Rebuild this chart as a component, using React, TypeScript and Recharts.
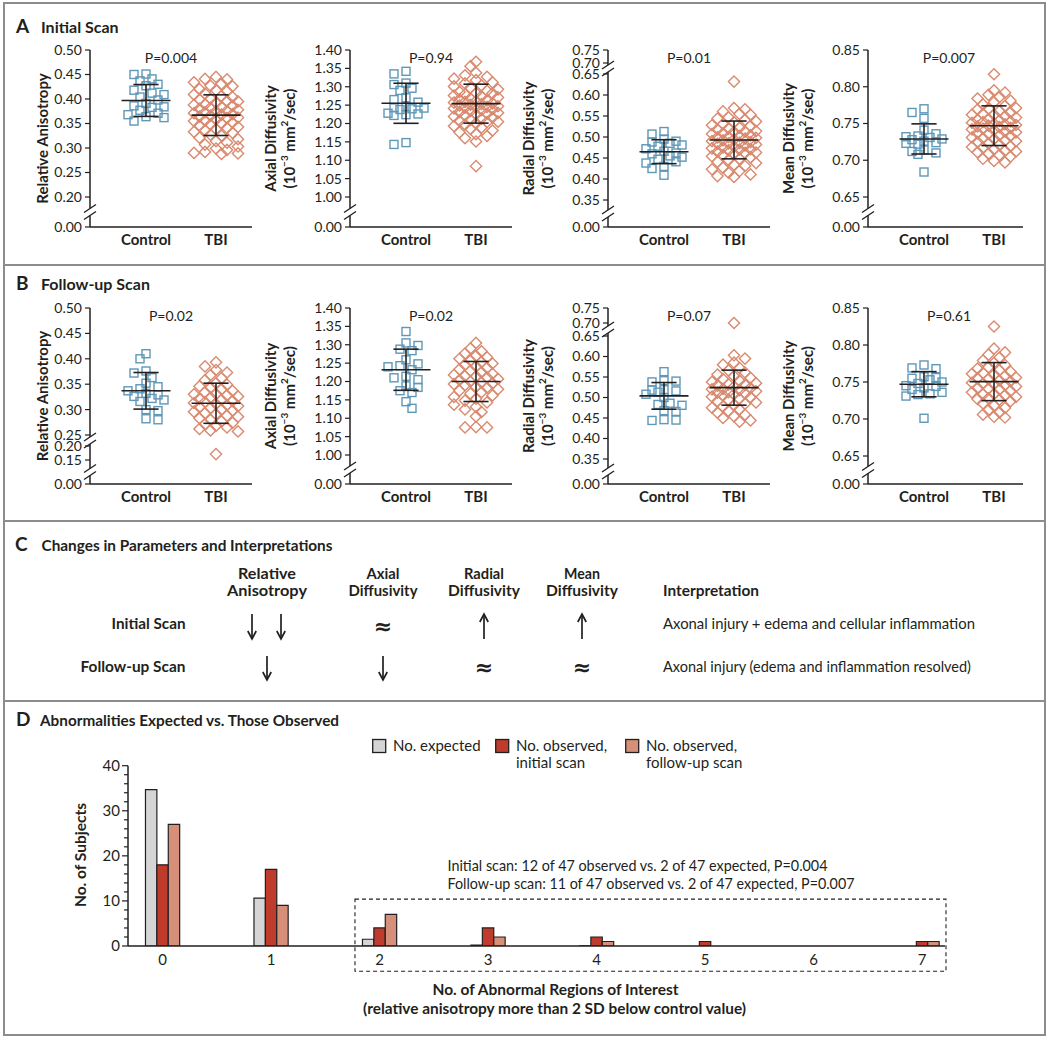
import React from 'react';
import {
  ScatterChart, Scatter, XAxis, YAxis, ReferenceLine, ReferenceDot, ReferenceArea,
  BarChart, Bar, Legend,
} from 'recharts';

const FONT = "Lato, 'Open Sans', 'DejaVu Sans', sans-serif";
const INK = '#231f20';
const BLUE = '#5f97b8';
const SALMON = '#d98a6f';
const FRAME = '#8c8c8c';

// ---------------- data: panels A and B ----------------
const groupNames = ['Control', 'TBI'];
const pInitial = ['P=0.004', 'P=0.94', 'P=0.01', 'P=0.007'];
const pFollow = ['P=0.02', 'P=0.02', 'P=0.07', 'P=0.61'];

const raInitialControl = [0.451, 0.450, 0.441, 0.437, 0.430, 0.427, 0.418, 0.412, 0.409, 0.404, 0.398, 0.391, 0.386, 0.384, 0.383, 0.377, 0.371, 0.368, 0.364, 0.362, 0.355];
const raInitialTbi = [0.445, 0.441, 0.440, 0.434, 0.431, 0.427, 0.426, 0.420, 0.418, 0.416, 0.411, 0.409, 0.406, 0.404, 0.401, 0.399, 0.396, 0.395, 0.392, 0.389, 0.388, 0.386, 0.383, 0.382, 0.380, 0.378, 0.376, 0.375, 0.373, 0.371, 0.369, 0.368, 0.366, 0.364, 0.362, 0.361, 0.358, 0.356, 0.355, 0.352, 0.350, 0.348, 0.346, 0.343, 0.341, 0.339, 0.336, 0.333, 0.331, 0.327, 0.325, 0.321, 0.318, 0.314, 0.311, 0.307, 0.303, 0.299, 0.296, 0.292, 0.290, 0.289, 0.288];
const raInitialMean = [0.397, 0.367];
const raInitialSd = [0.0325, 0.0415];

const adInitialControl = [1.342, 1.335, 1.310, 1.306, 1.296, 1.290, 1.270, 1.265, 1.258, 1.246, 1.243, 1.242, 1.240, 1.238, 1.228, 1.226, 1.224, 1.222, 1.148, 1.143];
const adInitialTbi = [1.368, 1.356, 1.338, 1.331, 1.327, 1.322, 1.318, 1.312, 1.309, 1.304, 1.301, 1.297, 1.293, 1.289, 1.286, 1.283, 1.282, 1.279, 1.276, 1.274, 1.271, 1.268, 1.266, 1.263, 1.261, 1.259, 1.257, 1.255, 1.253, 1.251, 1.249, 1.247, 1.245, 1.244, 1.243, 1.241, 1.239, 1.236, 1.234, 1.231, 1.229, 1.227, 1.225, 1.222, 1.219, 1.216, 1.213, 1.210, 1.207, 1.205, 1.204, 1.201, 1.197, 1.193, 1.189, 1.185, 1.181, 1.176, 1.171, 1.166, 1.160, 1.151, 1.084];
const adInitialMean = [1.255, 1.254];
const adInitialSd = [0.0545, 0.053];

const rdInitialControl = [0.513, 0.507, 0.495, 0.490, 0.488, 0.485, 0.481, 0.478, 0.472, 0.466, 0.462, 0.460, 0.455, 0.452, 0.447, 0.441, 0.438, 0.430, 0.425, 0.409];
const rdInitialTbi = [0.632, 0.569, 0.566, 0.561, 0.555, 0.553, 0.547, 0.544, 0.541, 0.537, 0.535, 0.531, 0.528, 0.526, 0.522, 0.520, 0.518, 0.514, 0.513, 0.512, 0.509, 0.507, 0.504, 0.502, 0.500, 0.499, 0.498, 0.496, 0.494, 0.492, 0.490, 0.488, 0.486, 0.485, 0.484, 0.482, 0.480, 0.477, 0.475, 0.473, 0.471, 0.470, 0.468, 0.465, 0.463, 0.462, 0.460, 0.457, 0.454, 0.451, 0.448, 0.445, 0.441, 0.438, 0.434, 0.431, 0.427, 0.423, 0.419, 0.415, 0.411, 0.407, 0.405];
const rdInitialMean = [0.465, 0.493];
const rdInitialSd = [0.0285, 0.045];

const mdInitialControl = [0.770, 0.765, 0.757, 0.741, 0.736, 0.733, 0.732, 0.731, 0.729, 0.728, 0.726, 0.724, 0.723, 0.722, 0.714, 0.712, 0.710, 0.708, 0.684];
const mdInitialTbi = [0.817, 0.795, 0.792, 0.789, 0.786, 0.784, 0.781, 0.779, 0.776, 0.774, 0.771, 0.770, 0.769, 0.767, 0.765, 0.763, 0.762, 0.762, 0.760, 0.758, 0.756, 0.755, 0.754, 0.753, 0.752, 0.751, 0.750, 0.749, 0.748, 0.747, 0.746, 0.745, 0.744, 0.743, 0.742, 0.741, 0.739, 0.738, 0.737, 0.736, 0.734, 0.733, 0.731, 0.730, 0.729, 0.727, 0.726, 0.725, 0.723, 0.721, 0.719, 0.718, 0.717, 0.715, 0.713, 0.712, 0.711, 0.709, 0.707, 0.705, 0.702, 0.699, 0.697];
const mdInitialMean = [0.729, 0.747];
const mdInitialSd = [0.0205, 0.027];

const raFollowControl = [0.410, 0.400, 0.376, 0.372, 0.363, 0.352, 0.345, 0.341, 0.337, 0.332, 0.329, 0.326, 0.322, 0.319, 0.316, 0.300, 0.298, 0.282, 0.280];
const raFollowTbi = [0.393, 0.385, 0.378, 0.373, 0.368, 0.362, 0.358, 0.352, 0.349, 0.346, 0.343, 0.340, 0.337, 0.334, 0.331, 0.330, 0.328, 0.326, 0.324, 0.321, 0.319, 0.317, 0.315, 0.313, 0.311, 0.309, 0.307, 0.305, 0.303, 0.300, 0.298, 0.296, 0.293, 0.291, 0.288, 0.286, 0.283, 0.280, 0.277, 0.274, 0.271, 0.268, 0.265, 0.262, 0.259, 0.257, 0.171];
const raFollowMean = [0.337, 0.3125];
const raFollowSd = [0.036, 0.0395];

const adFollowControl = [1.336, 1.305, 1.298, 1.288, 1.284, 1.259, 1.248, 1.243, 1.240, 1.232, 1.214, 1.210, 1.205, 1.188, 1.184, 1.175, 1.170, 1.145, 1.127];
const adFollowTbi = [1.305, 1.290, 1.282, 1.276, 1.270, 1.266, 1.262, 1.257, 1.253, 1.249, 1.245, 1.241, 1.237, 1.233, 1.229, 1.225, 1.221, 1.218, 1.215, 1.214, 1.211, 1.207, 1.204, 1.200, 1.197, 1.195, 1.193, 1.190, 1.186, 1.183, 1.179, 1.175, 1.171, 1.167, 1.162, 1.158, 1.153, 1.148, 1.143, 1.137, 1.131, 1.124, 1.117, 1.105, 1.076, 1.075, 1.075];
const adFollowMean = [1.232, 1.200];
const adFollowSd = [0.056, 0.0545];

const rdFollowControl = [0.563, 0.541, 0.540, 0.538, 0.519, 0.518, 0.516, 0.513, 0.508, 0.500, 0.486, 0.483, 0.481, 0.468, 0.466, 0.446, 0.445, 0.444];
const rdFollowTbi = [0.700, 0.603, 0.595, 0.585, 0.580, 0.572, 0.566, 0.561, 0.556, 0.552, 0.548, 0.545, 0.541, 0.538, 0.535, 0.532, 0.531, 0.529, 0.526, 0.523, 0.521, 0.520, 0.518, 0.515, 0.513, 0.512, 0.510, 0.508, 0.505, 0.502, 0.500, 0.497, 0.494, 0.491, 0.488, 0.485, 0.482, 0.478, 0.475, 0.471, 0.467, 0.463, 0.458, 0.454, 0.450, 0.444, 0.441];
const rdFollowMean = [0.504, 0.524];
const rdFollowSd = [0.0325, 0.0427];

const mdFollowControl = [0.773, 0.769, 0.768, 0.757, 0.756, 0.755, 0.753, 0.750, 0.748, 0.745, 0.744, 0.742, 0.740, 0.736, 0.734, 0.733, 0.731, 0.701];
const mdFollowTbi = [0.825, 0.795, 0.790, 0.787, 0.783, 0.779, 0.776, 0.773, 0.770, 0.768, 0.766, 0.764, 0.762, 0.761, 0.760, 0.758, 0.756, 0.755, 0.754, 0.752, 0.751, 0.749, 0.748, 0.747, 0.746, 0.744, 0.742, 0.741, 0.740, 0.738, 0.736, 0.734, 0.733, 0.732, 0.730, 0.728, 0.727, 0.726, 0.724, 0.721, 0.718, 0.715, 0.712, 0.709, 0.706, 0.703, 0.702];
const mdFollowMean = [0.747, 0.7505];
const mdFollowSd = [0.017, 0.0257];

// tick labels
const raTicksInitial = [0, 0.2, 0.25, 0.3, 0.35, 0.4, 0.45, 0.5];
const raTicksFollow = [0, 0.15, 0.2, 0.25, 0.3, 0.35, 0.4, 0.45, 0.5];
const adTicks = [0, 1.0, 1.05, 1.1, 1.15, 1.2, 1.25, 1.3, 1.35, 1.4];
const rdTicks = [0, 0.35, 0.4, 0.45, 0.5, 0.55, 0.6, 0.65, 0.7, 0.75];
const mdTicks = [0, 0.65, 0.7, 0.75, 0.8, 0.85];

// ---------------- data: panel D ----------------
const regionCounts = [0, 1, 2, 3, 4, 5, 6, 7];
const expectedCounts = [34.7, 10.6, 1.5, 0.2, 0.03, 0, 0, 0];
const observedInitial = [18, 17, 4, 4, 2, 1, 0, 1];
const observedFollowUp = [27, 9, 7, 2, 1, 0, 0, 1];
const subjectTicks = [0, 2, 4, 6, 8, 10, 12, 14, 16, 18, 20, 22, 24, 26, 28, 30, 32, 34, 36, 38, 40];

// ---------------- axis layout (broken axes) ----------------
type Seg = [number, number, number, boolean]; // from, to, pixel length, is break
const raSegsA: Seg[] = [[0, 0.2, 30, true], [0.2, 0.5, 147, false]];
const adSegsA: Seg[] = [[0, 1.0, 30, true], [1.0, 1.4, 147, false]];
const rdSegsA: Seg[] = [[0, 0.35, 27, true], [0.35, 0.65, 126, false], [0.65, 0.7, 11, true], [0.7, 0.75, 13, false]];
const mdSegsA: Seg[] = [[0, 0.65, 30, true], [0.65, 0.85, 147, false]];
const raSegsB: Seg[] = [[0, 0.15, 24, true], [0.15, 0.2, 14, false], [0.2, 0.25, 11, true], [0.25, 0.5, 127, false]];
const adSegsB: Seg[] = [[0, 1.0, 29, true], [1.0, 1.4, 147, false]];
const rdSegsB: Seg[] = [[0, 0.35, 25, true], [0.35, 0.65, 123, false], [0.65, 0.7, 13, true], [0.7, 0.75, 15, false]];
const mdSegsB: Seg[] = [[0, 0.65, 28, true], [0.65, 0.85, 148, false]];

function segTotal(segs: Seg[]) {
  return segs.reduce((s, g) => s + g[2], 0);
}
function fracOf(segs: Seg[], v: number): number {
  const total = segTotal(segs);
  let acc = 0;
  for (let i = 0; i < segs.length; i++) {
    const [a, b, px] = segs[i];
    if (v <= b || i === segs.length - 1) return (acc + ((v - a) / (b - a)) * px) / total;
    acc += px;
  }
  return 1;
}
function valueOfFrac(segs: Seg[], f: number): number {
  const total = segTotal(segs);
  const target = f * total;
  let acc = 0;
  for (let i = 0; i < segs.length; i++) {
    const [a, b, px] = segs[i];
    if (target <= acc + px || i === segs.length - 1) return a + ((target - acc) / px) * (b - a);
    acc += px;
  }
  return segs[segs.length - 1][1];
}
function makeBrokenScale(segs: Seg[]): any {
  let dom: number[] = [segs[0][0], segs[segs.length - 1][1]];
  let rng: number[] = [0, 1];
  const scale: any = (v: any) => rng[0] + fracOf(segs, Number(v)) * (rng[1] - rng[0]);
  scale.domain = (d?: any) => {
    if (d === undefined) return dom.slice();
    dom = Array.from(d as number[]);
    return scale;
  };
  scale.range = (r?: any) => {
    if (r === undefined) return rng.slice();
    rng = Array.from(r as number[]);
    return scale;
  };
  scale.rangeRound = scale.range;
  scale.copy = () => makeBrokenScale(segs).domain(dom).range(rng);
  scale.invert = (px: number) => valueOfFrac(segs, (px - rng[0]) / (rng[1] - rng[0]));
  scale.ticks = () => segs.map((s) => s[0]).concat([segs[segs.length - 1][1]]);
  scale.tickFormat = () => (d: number) => String(d);
  scale.nice = () => scale;
  scale.clamp = (c?: any) => (c === undefined ? false : scale);
  return scale;
}

// beeswarm-style horizontal spreading (pixel space)
function swarmOffsets(vals: number[], yPix: (v: number) => number, minD: number, step: number, maxOff: number): number[] {
  const placed: { x: number; y: number }[] = [];
  return vals.map((v, idx) => {
    const y = yPix(v);
    const sign = idx % 2 === 0 ? 1 : -1;
    const cands = [0];
    for (let k = 1; k * step <= maxOff + 0.01; k++) cands.push(sign * k * step, -sign * k * step);
    let best = 0;
    let bestD = -1;
    for (const c of cands) {
      let md = Infinity;
      for (const p of placed) md = Math.min(md, Math.hypot(p.x - c, p.y - y));
      if (md >= minD) {
        best = c;
        break;
      }
      if (md > bestD) {
        bestD = md;
        best = c;
      }
    }
    placed.push({ x: best, y });
    return best;
  });
}

const SquareShape = (p: any) => (
  <rect x={p.cx - 4} y={p.cy - 4} width={8} height={8} fill="none" stroke={BLUE} strokeWidth={1.4} />
);
const DiamondShape = (p: any) => (
  <path
    d={`M${p.cx},${p.cy - 5.6}L${p.cx + 5.6},${p.cy}L${p.cx},${p.cy + 5.6}L${p.cx - 5.6},${p.cy}Z`}
    fill="none"
    stroke={SALMON}
    strokeWidth={1.4}
  />
);
const BreakMark = (p: any) => (
  <g stroke={INK} strokeWidth={1.3}>
    <line x1={p.cx - 6} y1={p.cy + 0.5} x2={p.cx + 6} y2={p.cy - 7.5} />
    <line x1={p.cx - 6} y1={p.cy + 7.5} x2={p.cx + 6} y2={p.cy - 0.5} />
  </g>
);

const renderGroupTick = (p: any) => (
  <text x={p.x} y={p.y + 18} textAnchor="middle" fontFamily={FONT} fontWeight={700} fontSize={15} fill={INK}>
    {groupNames[Math.round(p.payload.value) - 1]}
  </text>
);

type PanelSpec = {
  axisX: number; plotW: number; topPx: number; plotH: number; segs: Seg[]; ticks: number[];
  control: number[]; tbi: number[]; mean: number[]; sd: number[]; pText: string;
};

const X_MIN = 0.2;
const PX_PER_UNIT = 70;

function ScatterPanel({ spec }: { spec: PanelSpec }) {
  const { axisX, plotW, topPx, plotH, segs, ticks, control, tbi, mean, sd, pText } = spec;
  const axisW = 90;
  const mTop = 20;
  const xAxisH = 30;
  const W = axisW + plotW + 8;
  const H = mTop + plotH + xAxisH;
  const xMax = X_MIN + plotW / PX_PER_UNIT;
  const yTop = segs[segs.length - 1][1];
  const yScale = React.useMemo(() => makeBrokenScale(segs), [segs]);
  const yPix = (v: number) => (1 - fracOf(segs, v)) * plotH;
  const cOff = swarmOffsets(control, yPix, 7.5, 6, 18);
  const tOff = swarmOffsets(tbi, yPix, 7, 5.5, 22);
  const cData = control.map((v, i) => ({ x: 1 + cOff[i] / PX_PER_UNIT, y: v }));
  const tData = tbi.map((v, i) => ({ x: 2 + tOff[i] / PX_PER_UNIT, y: v }));

  // axis line pieces with gaps at the breaks
  const pieces: [number, number][] = [];
  const breaks: number[] = [];
  let start = segs[0][0];
  segs.forEach(([a, b, px, isBreak]) => {
    if (isBreak) {
      const mid = (a + b) / 2;
      const g = (3.5 * (b - a)) / px;
      pieces.push([start, mid - g]);
      start = mid + g;
      breaks.push(mid);
    }
  });
  pieces.push([start, yTop]);

  const statLines: React.ReactNode[] = [];
  [1, 2].forEach((g, i) => {
    const m = mean[i];
    const s = sd[i];
    statLines.push(
      <ReferenceLine key={`m${g}`} segment={[{ x: g - 0.35, y: m }, { x: g + 0.35, y: m }]} stroke={INK} strokeWidth={1.6} ifOverflow="visible" zIndex={900} />,
      <ReferenceLine key={`u${g}`} segment={[{ x: g - 0.18, y: m + s }, { x: g + 0.18, y: m + s }]} stroke={INK} strokeWidth={1.6} ifOverflow="visible" zIndex={900} />,
      <ReferenceLine key={`l${g}`} segment={[{ x: g - 0.18, y: m - s }, { x: g + 0.18, y: m - s }]} stroke={INK} strokeWidth={1.6} ifOverflow="visible" zIndex={900} />,
      <ReferenceLine key={`v${g}`} segment={[{ x: g, y: m - s }, { x: g, y: m + s }]} stroke={INK} strokeWidth={1.6} ifOverflow="visible" zIndex={900} />,
    );
  });

  return (
    <div style={{ position: 'absolute', left: axisX - axisW, top: topPx - mTop }}>
      <ScatterChart width={W} height={H} margin={{ top: mTop, right: 8, bottom: 0, left: 0 }}>
        <XAxis
          type="number"
          dataKey="x"
          domain={[X_MIN, xMax]}
          ticks={[1, 2]}
          allowDataOverflow
          interval={0}
          height={xAxisH}
          tickSize={0}
          tickMargin={0}
          tickLine={false}
          axisLine={{ stroke: INK, strokeWidth: 1.5 }}
          tick={renderGroupTick}
        />
        <YAxis
          type="number"
          dataKey="y"
          domain={[segs[0][0], yTop]}
          scale={yScale}
          ticks={ticks}
          allowDataOverflow
          interval={0}
          width={axisW}
          axisLine={false}
          tickSize={5}
          tickMargin={3}
          tickLine={{ stroke: INK, strokeWidth: 1.2 }}
          tick={{ fill: INK, fontSize: 14, fontFamily: FONT }}
          tickFormatter={(v: number) => v.toFixed(2)}
        />
        {pieces.map(([a, b], i) => (
          <ReferenceLine key={`ax${i}`} segment={[{ x: X_MIN, y: a }, { x: X_MIN, y: b }]} stroke={INK} strokeWidth={1.5} ifOverflow="visible" />
        ))}
        {breaks.map((b, i) => (
          <ReferenceDot key={`br${i}`} x={X_MIN} y={b} r={6} shape={BreakMark} ifOverflow="visible" />
        ))}
        <Scatter name="Control" data={cData} shape={SquareShape} isAnimationActive={false} />
        <Scatter name="TBI" data={tData} shape={DiamondShape} isAnimationActive={false} />
        {statLines}
        <ReferenceDot
          x={X_MIN + 81 / PX_PER_UNIT}
          y={yTop}
          r={1}
          ifOverflow="visible"
          shape={(p: any) => (
            <text x={p.cx} y={p.cy + 13} textAnchor="middle" fontFamily={FONT} fontSize={14} fill={INK}>
              {pText}
            </text>
          )}
        />
      </ScatterChart>
    </div>
  );
}

const colLayout = [
  { axisX: 90, plotW: 162 },
  { axisX: 350, plotW: 162 },
  { axisX: 608, plotW: 162 },
  { axisX: 868, plotW: 155 },
];
const rowLayout = [
  { topPx: 50, plotH: 177 },
  { topPx: 308, plotH: 176 },
];

const panelSpecs: PanelSpec[] = [
  { ...colLayout[0], ...rowLayout[0], segs: raSegsA, ticks: raTicksInitial, control: raInitialControl, tbi: raInitialTbi, mean: raInitialMean, sd: raInitialSd, pText: pInitial[0] },
  { ...colLayout[1], ...rowLayout[0], segs: adSegsA, ticks: adTicks, control: adInitialControl, tbi: adInitialTbi, mean: adInitialMean, sd: adInitialSd, pText: pInitial[1] },
  { ...colLayout[2], ...rowLayout[0], segs: rdSegsA, ticks: rdTicks, control: rdInitialControl, tbi: rdInitialTbi, mean: rdInitialMean, sd: rdInitialSd, pText: pInitial[2] },
  { ...colLayout[3], ...rowLayout[0], segs: mdSegsA, ticks: mdTicks, control: mdInitialControl, tbi: mdInitialTbi, mean: mdInitialMean, sd: mdInitialSd, pText: pInitial[3] },
  { ...colLayout[0], ...rowLayout[1], segs: raSegsB, ticks: raTicksFollow, control: raFollowControl, tbi: raFollowTbi, mean: raFollowMean, sd: raFollowSd, pText: pFollow[0] },
  { ...colLayout[1], ...rowLayout[1], segs: adSegsB, ticks: adTicks, control: adFollowControl, tbi: adFollowTbi, mean: adFollowMean, sd: adFollowSd, pText: pFollow[1] },
  { ...colLayout[2], ...rowLayout[1], segs: rdSegsB, ticks: rdTicks, control: rdFollowControl, tbi: rdFollowTbi, mean: rdFollowMean, sd: rdFollowSd, pText: pFollow[2] },
  { ...colLayout[3], ...rowLayout[1], segs: mdSegsB, ticks: mdTicks, control: mdFollowControl, tbi: mdFollowTbi, mean: mdFollowMean, sd: mdFollowSd, pText: pFollow[3] },
];

const yAxisTitles = ['Relative Anisotropy', 'Axial Diffusivity', 'Radial Diffusivity', 'Mean Diffusivity'];

function UnitLine({ x, y }: { x: number; y: number }) {
  return (
    <text x={x} y={y} transform={`rotate(-90 ${x} ${y})`} textAnchor="middle" dominantBaseline="central" fontFamily={FONT} fontWeight={700} fontSize={15} fill={INK}>
      (10<tspan dy={-5} fontSize={10}>−3</tspan>
      <tspan dy={5}> mm</tspan>
      <tspan dy={-5} fontSize={10}>2</tspan>
      <tspan dy={5}>/sec)</tspan>
    </text>
  );
}

function YTitle({ col, row }: { col: number; row: number }) {
  const ax = colLayout[col].axisX;
  const cy = rowLayout[row].topPx + rowLayout[row].plotH / 2;
  if (col === 0) {
    const x = ax - 48;
    return (
      <text x={x} y={cy} transform={`rotate(-90 ${x} ${cy})`} textAnchor="middle" dominantBaseline="central" fontFamily={FONT} fontWeight={700} fontSize={15} fill={INK}>
        {yAxisTitles[0]}
      </text>
    );
  }
  const x1 = ax - 80;
  const x2 = ax - 61;
  return (
    <g>
      <text x={x1} y={cy} transform={`rotate(-90 ${x1} ${cy})`} textAnchor="middle" dominantBaseline="central" fontFamily={FONT} fontWeight={700} fontSize={15} fill={INK}>
        {yAxisTitles[col]}
      </text>
      <UnitLine x={x2} y={cy} />
    </g>
  );
}

// ---------------- panel C table ----------------
const tableHeads = [['Relative', 'Anisotropy'], ['Axial', 'Diffusivity'], ['Radial', 'Diffusivity'], ['Mean', 'Diffusivity']];
const tableRows = ['Initial Scan', 'Follow-up Scan'];
const tableChanges = [['down2', 'approx', 'up', 'up'], ['down', 'down', 'approx', 'approx']];
const tableInterpretations = ['Axonal injury + edema and cellular inflammation', 'Axonal injury (edema and inflammation resolved)'];

const colCenters = [267, 383, 484, 582];
const headLens = [[58, 80], [33, 69], [40, 72], [36, 72]];
const rowBase = [629, 672];
const rowArrow = [[614, 639], [656, 680]];
const rowLabelLens = [74, 105];
const interpLens = [312, 308];

function Arrow({ x, y1, y2, down }: { x: number; y1: number; y2: number; down: boolean }) {
  const head = down
    ? `${x - 4.2},${y2 - 8} ${x},${y2} ${x + 4.2},${y2 - 8}`
    : `${x - 4.2},${y1 + 8} ${x},${y1} ${x + 4.2},${y1 + 8}`;
  return (
    <g stroke={INK} strokeWidth={1.7} fill="none">
      <line x1={x} y1={y1} x2={x} y2={y2} />
      <polyline points={head} />
    </g>
  );
}

function ChangeMark({ kind, x, r }: { kind: string; x: number; r: number }) {
  const [y1, y2] = rowArrow[r];
  if (kind === 'down2') {
    return (
      <g>
        <Arrow x={x - 15} y1={y1} y2={y2} down />
        <Arrow x={x + 14} y1={y1} y2={y2} down />
      </g>
    );
  }
  if (kind === 'down') return <Arrow x={x} y1={y1} y2={y2} down />;
  if (kind === 'up') return <Arrow x={x} y1={y1} y2={y2} down={false} />;
  return (
    <text x={x} y={(y1 + y2) / 2 + 7} textAnchor="middle" fontFamily="'DejaVu Sans', sans-serif" fontWeight={700} fontSize={22} fill={INK}>
      ≈
    </text>
  );
}

function PanelC() {
  return (
    <g fontFamily={FONT} fill={INK}>
      <text x={15} y={551} fontSize={19} fontWeight={700}>C</text>
      <text x={41.5} y={551} fontSize={16} fontWeight={700} textLength={291} lengthAdjust="spacingAndGlyphs">
        Changes in Parameters and Interpretations
      </text>
      {tableHeads.map((lines, i) => (
        <g key={i}>
          <text x={colCenters[i]} y={579} textAnchor="middle" fontSize={15} fontWeight={700} textLength={headLens[i][0]} lengthAdjust="spacingAndGlyphs">{lines[0]}</text>
          <text x={colCenters[i]} y={596} textAnchor="middle" fontSize={15} fontWeight={700} textLength={headLens[i][1]} lengthAdjust="spacingAndGlyphs">{lines[1]}</text>
        </g>
      ))}
      <text x={663} y={596} fontSize={15} fontWeight={700} textLength={96} lengthAdjust="spacingAndGlyphs">Interpretation</text>
      {tableRows.map((name, r) => (
        <g key={name}>
          <text x={185.5} y={rowBase[r]} textAnchor="end" fontSize={16} fontWeight={700} textLength={rowLabelLens[r]} lengthAdjust="spacingAndGlyphs">{name}</text>
          {tableChanges[r].map((k, c) => (
            <ChangeMark key={c} kind={k} x={colCenters[c]} r={r} />
          ))}
          <text x={663} y={rowBase[r]} fontSize={16} textLength={interpLens[r]} lengthAdjust="spacingAndGlyphs">{tableInterpretations[r]}</text>
        </g>
      ))}
    </g>
  );
}

// ---------------- panel D ----------------
const barNames = ['No. expected', 'No. observed,\ninitial scan', 'No. observed,\nfollow-up scan'];
const barColors = ['#d5d5d5', '#bf3b2b', '#d6907a'];
const barData = regionCounts.map((r, i) => ({
  r,
  expected: expectedCounts[i],
  initial: observedInitial[i],
  followUp: observedFollowUp[i],
}));
const legendX = [0, 123, 253];

function BarLegend(props: any) {
  const given = props.payload && props.payload.length ? props.payload : barNames.map((n, i) => ({ value: n, color: barColors[i] }));
  const items = [...given].sort((a: any, b: any) => barNames.indexOf(String(a.value)) - barNames.indexOf(String(b.value)));
  return (
    <svg width={380} height={40} style={{ display: 'block' }}>
      {items.map((it: any, i: number) => {
        const lines = String(it.value).split('\n');
        const x0 = legendX[i];
        return (
          <g key={i}>
            <rect x={x0 + 0.7} y={3.5} width={13} height={13} fill={it.color} stroke={INK} strokeWidth={1.3} />
            {lines.map((ln, j) => (
              <text key={j} x={x0 + 21} y={15 + j * 17} fontFamily={FONT} fontSize={15} fill={INK}>
                {ln}
              </text>
            ))}
          </g>
        );
      })}
    </svg>
  );
}

const renderRegionTick = (p: any) => (
  <text x={p.x} y={p.y + 19} textAnchor="middle" fontFamily={FONT} fontSize={15} fill={INK}>
    {p.payload.value}
  </text>
);
const renderSubjectTick = (p: any) => {
  const v = p.payload.value;
  const major = v % 10 === 0;
  return (
    <g>
      <line x1={p.x - (major ? 6 : 4)} x2={p.x} y1={p.y} y2={p.y} stroke={INK} strokeWidth={1.2} />
      {major && (
        <text x={p.x - 8} y={p.y} dy="0.35em" textAnchor="end" fontFamily={FONT} fontSize={15} fill={INK}>
          {v}
        </text>
      )}
    </g>
  );
};

function PanelD() {
  return (
    <div style={{ position: 'absolute', left: 0, top: 700 }}>
      <BarChart width={960} height={326} data={barData} margin={{ top: 65.7, right: 15, bottom: 0, left: 0 }} barGap={0} barSize={11.4}>
        <XAxis
          type="number"
          dataKey="r"
          domain={[-0.32, 7.21]}
          ticks={regionCounts}
          allowDataOverflow
          interval={0}
          height={80}
          tickSize={0}
          tickMargin={0}
          tickLine={false}
          axisLine={{ stroke: INK, strokeWidth: 1.5 }}
          tick={renderRegionTick}
        />
        <YAxis
          type="number"
          domain={[0, 40]}
          ticks={subjectTicks}
          allowDataOverflow
          interval={0}
          width={128}
          tickSize={0}
          tickMargin={0}
          tickLine={false}
          axisLine={{ stroke: INK, strokeWidth: 1.5 }}
          tick={renderSubjectTick}
        />
        <Legend
          layout="horizontal"
          verticalAlign="middle"
          align="center"
          itemSorter={null as any}
          content={(p: any) => <BarLegend {...p} />}
          wrapperStyle={{ position: 'absolute', left: 372, top: 36, width: 380, height: 40 }}
        />
        <Bar dataKey="expected" name={barNames[0]} fill={barColors[0]} stroke={INK} strokeWidth={1.2} isAnimationActive={false} />
        <Bar dataKey="initial" name={barNames[1]} fill={barColors[1]} stroke={INK} strokeWidth={1.2} isAnimationActive={false} />
        <Bar dataKey="followUp" name={barNames[2]} fill={barColors[2]} stroke={INK} strokeWidth={1.2} isAnimationActive={false} />
        <ReferenceArea x1={1.772} x2={7.219} y1={-5.6} y2={10.4} ifOverflow="visible" fill="none" fillOpacity={0} stroke={INK} strokeWidth={1.1} strokeDasharray="4 3" />
      </BarChart>
    </div>
  );
}

// ---------------- page ----------------
export default function App() {
  return (
    <div style={{ position: 'absolute', left: 0, top: 0, width: 1050, height: 1041, background: '#fff', overflow: 'hidden' }}>
      <svg width={1050} height={1041} style={{ position: 'absolute', left: 0, top: 0 }}>
        <rect x={4} y={3} width={1041} height={1032} fill="none" stroke={FRAME} strokeWidth={2} />
        {[265, 521, 701].map((y) => (
          <line key={y} x1={4} x2={1045} y1={y} y2={y} stroke={FRAME} strokeWidth={2} />
        ))}
        <g fontFamily={FONT} fill={INK} fontWeight={700}>
          <text x={16} y={33} fontSize={19}>A</text>
          <text x={41} y={33} fontSize={16}>Initial Scan</text>
          <text x={16} y={290} fontSize={19}>B</text>
          <text x={41} y={290} fontSize={16}>Follow-up Scan</text>
          <text x={16} y={726} fontSize={19}>D</text>
          <text x={40} y={726} fontSize={16} textLength={299} lengthAdjust="spacingAndGlyphs">Abnormalities Expected vs. Those Observed</text>
        </g>
        {[0, 1].map((row) => [0, 1, 2, 3].map((col) => <YTitle key={`${row}-${col}`} col={col} row={row} />))}
        <PanelC />
        <g fontFamily={FONT} fill={INK}>
          <text x={447.5} y={871} fontSize={15} textLength={380} lengthAdjust="spacingAndGlyphs">
            Initial scan: 12 of 47 observed vs. 2 of 47 expected, P=0.004
          </text>
          <text x={447.5} y={889} fontSize={15} textLength={407} lengthAdjust="spacingAndGlyphs">
            Follow-up scan: 11 of 47 observed vs. 2 of 47 expected, P=0.007
          </text>
          <text x={80} y={855} transform="rotate(-90 80 855)" textAnchor="middle" dominantBaseline="central" fontSize={15} fontWeight={700} textLength={104} lengthAdjust="spacingAndGlyphs">
            No. of Subjects
          </text>
          <text x={555.5} y={995} textAnchor="middle" fontSize={15} fontWeight={700} textLength={246} lengthAdjust="spacingAndGlyphs">
            No. of Abnormal Regions of Interest
          </text>
          <text x={554.5} y={1014} textAnchor="middle" fontSize={15} fontWeight={700} textLength={383} lengthAdjust="spacingAndGlyphs">
            (relative anisotropy more than 2 SD below control value)
          </text>
        </g>
      </svg>
      {panelSpecs.map((s, i) => (
        <ScatterPanel key={i} spec={s} />
      ))}
      <PanelD />
    </div>
  );
}
